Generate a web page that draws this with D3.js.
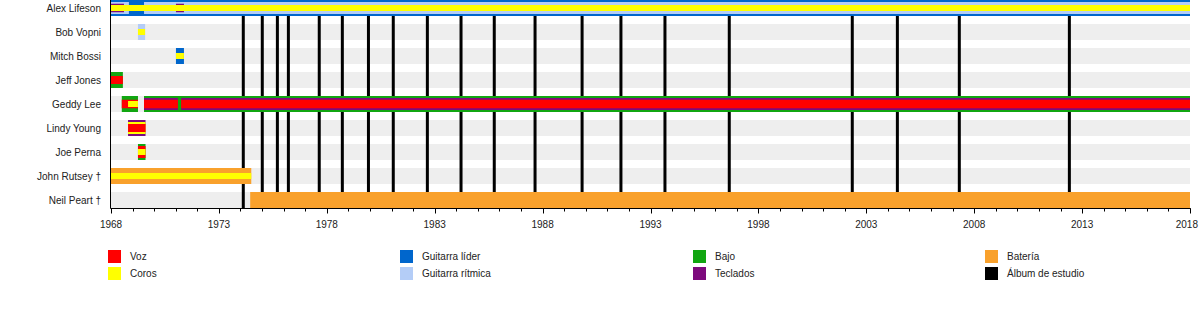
<!DOCTYPE html>
<html>
<head>
<meta charset="utf-8">
<script src="https://cdn.jsdelivr.net/npm/d3@7"></script>
<style>
  html, body { margin: 0; padding: 0; background: #fff; }
  svg { display: block; font-family: "Liberation Sans", Arial, sans-serif; }
</style>
</head>
<body>
<svg id="chart" width="1200" height="328"></svg>
<script>
// Band members, top to bottom
const members = [
  "Alex Lifeson", "Bob Vopni", "Mitch Bossi", "Jeff Jones", "Geddy Lee",
  "Lindy Young", "Joe Perna", "John Rutsey †", "Neil Peart †"
];

// Roles shown in the legend
const roles = ["Voz", "Coros", "Guitarra líder", "Guitarra rítmica", "Bajo", "Teclados", "Batería", "Álbum de estudio"];

// Studio album release dates (decimal years)
const albums = [
  1974.13, 1975.01, 1975.71, 1976.22, 1977.65, 1978.72, 1979.93, 1981.08,
  1982.66, 1984.22, 1985.76, 1987.65, 1989.83, 1991.63, 1993.67, 1996.65,
  2002.35, 2004.44, 2007.31, 2012.41
];

// Axis ticks
const majorTicks = [1968, 1973, 1978, 1983, 1988, 1993, 1998, 2003, 2008, 2013, 2018];
const minorTicks = d3.range(1968, 2019);

// Tenures: [member, role, from, till]; a member's roles stack outer to inner in listed order
const stints = [
  ["Alex Lifeson", "Guitarra líder", 1968, 2018],
  ["Alex Lifeson", "Guitarra rítmica", 1968, 1968.83],
  ["Alex Lifeson", "Guitarra rítmica", 1969.53, 2018],
  ["Alex Lifeson", "Teclados", 1968, 1968.6],
  ["Alex Lifeson", "Teclados", 1971.01, 1971.38],
  ["Alex Lifeson", "Coros", 1968, 2018],

  ["Bob Vopni", "Guitarra rítmica", 1969.25, 1969.58],
  ["Bob Vopni", "Coros", 1969.25, 1969.58],

  ["Mitch Bossi", "Guitarra líder", 1971.01, 1971.38],
  ["Mitch Bossi", "Coros", 1971.01, 1971.38],

  ["Jeff Jones", "Bajo", 1968, 1968.55],
  ["Jeff Jones", "Voz", 1968, 1968.55],

  ["Geddy Lee", "Bajo", 1968.5, 1969.25],
  ["Geddy Lee", "Bajo", 1969.53, 2018],
  ["Geddy Lee", "Teclados", 1969.53, 1971.1],
  ["Geddy Lee", "Teclados", 1971.25, 2018],
  ["Geddy Lee", "Voz", 1968.5, 1969.25],
  ["Geddy Lee", "Voz", 1969.53, 1971.1],
  ["Geddy Lee", "Voz", 1971.25, 2018],
  ["Geddy Lee", "Coros", 1968.79, 1969.25],

  ["Lindy Young", "Teclados", 1968.79, 1969.6],
  ["Lindy Young", "Coros", 1968.79, 1969.6],
  ["Lindy Young", "Voz", 1968.79, 1969.6],

  ["Joe Perna", "Bajo", 1969.25, 1969.6],
  ["Joe Perna", "Voz", 1969.25, 1969.6],
  ["Joe Perna", "Coros", 1969.25, 1969.6],

  ["John Rutsey †", "Batería", 1968, 1974.5],
  ["John Rutsey †", "Coros", 1968, 1974.5],

  ["Neil Peart †", "Batería", 1974.45, 2018]
];

const roleColor = d3.scaleOrdinal()
  .domain(roles)
  .range(["#ff0000", "#ffff00", "#0066cc", "#b4cdf7", "#11a611", "#7d0a7d", "#f9a12c", "#000000"]);

const W = 1200;
const svg = d3.select("#chart");

const x = d3.scaleLinear().domain([1968, 2018]).range([111, 1190]);
const y = d3.scalePoint().domain(members).range([8, 200]);

const barH = 16;

// Bar thickness from the role's rank within that member's stack
const memberRoles = d3.rollup(stints, v => Array.from(new Set(v.map(d => d[1]))), d => d[0]);
function thickness(member, role) {
  const list = memberRoles.get(member);
  const i = list.indexOf(role);
  if (i === 0) return barH;
  if (role === "Coros" && i === list.length - 1) return 6;
  if (i === list.length - 1) return 8;
  return i === 1 ? 12 : 8.5;
}

// Row backgrounds
svg.append("g").selectAll("rect").data(members).join("rect")
  .attr("x", x(1968)).attr("width", x(2018) - x(1968))
  .attr("y", d => y(d) - barH / 2).attr("height", barH)
  .attr("fill", "#eeeeee");

// Album release lines
svg.append("g").selectAll("rect").data(albums).join("rect")
  .attr("x", d => x(d) - 1.5).attr("width", 3)
  .attr("y", 0).attr("height", 208)
  .attr("fill", roleColor("Álbum de estudio"));

// Member bars, stacked outer to inner
const ordered = stints.slice().sort((a, b) =>
  memberRoles.get(a[0]).indexOf(a[1]) - memberRoles.get(b[0]).indexOf(b[1]));
svg.append("g").selectAll("rect").data(ordered).join("rect")
  .attr("x", d => x(d[2])).attr("width", d => x(d[3]) - x(d[2]))
  .attr("y", d => y(d[0]) - thickness(d[0], d[1]) / 2)
  .attr("height", d => thickness(d[0], d[1]))
  .attr("fill", d => roleColor(d[1]));

// Member names
svg.append("g").selectAll("text").data(members).join("text")
  .attr("x", 101).attr("y", d => y(d) + 3.6)
  .attr("text-anchor", "end")
  .attr("font-size", 10).attr("fill", "#222")
  .text(d => d);

// Axes frame
const axisG = svg.append("g").attr("stroke", "#000").attr("stroke-width", 1);
axisG.append("line").attr("x1", 110.5).attr("x2", 110.5).attr("y1", 0).attr("y2", 208.5);
axisG.append("line").attr("x1", 110.5).attr("x2", 1190.5).attr("y1", 208.5).attr("y2", 208.5);
axisG.selectAll(".minor").data(minorTicks).join("line").attr("class", "minor")
  .attr("x1", d => Math.round(x(d)) + 0.5).attr("x2", d => Math.round(x(d)) + 0.5)
  .attr("y1", 208.5).attr("y2", 211.5);
axisG.selectAll(".major").data(majorTicks).join("line").attr("class", "major")
  .attr("x1", d => Math.round(x(d)) + 0.5).attr("x2", d => Math.round(x(d)) + 0.5)
  .attr("y1", 208.5).attr("y2", 213.5);

// Year labels, kept inside the canvas
svg.append("g").selectAll("text").data(majorTicks).join("text")
  .attr("y", 227.5)
  .attr("text-anchor", "middle")
  .attr("font-size", 10).attr("fill", "#222")
  .text(d => d)
  .attr("x", function (d) {
    const half = this.getComputedTextLength() / 2;
    return Math.min(x(d), W - 2 - half);
  });

// Legend: four columns, two rows
const legendCols = [108, 400, 693, 985];
const legend = svg.append("g").selectAll("g").data(roles).join("g")
  .attr("transform", (d, i) => `translate(${legendCols[Math.floor(i / 2)]},${250 + (i % 2) * 17})`);
legend.append("rect").attr("width", 13).attr("height", 13).attr("fill", d => roleColor(d));
legend.append("text").attr("x", 22).attr("y", 10).attr("font-size", 10).attr("fill", "#222").text(d => d);
</script>
</body>
</html>
